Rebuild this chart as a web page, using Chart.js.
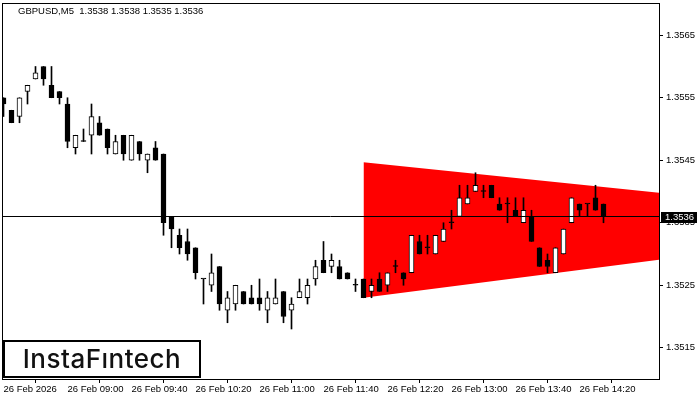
<!DOCTYPE html>
<html>
<head>
<meta charset="utf-8">
<script src="https://cdn.jsdelivr.net/npm/chart.js@4.4.1/dist/chart.umd.min.js"></script>
<style>
  html, body { margin: 0; padding: 0; background: #fff; }
  canvas { display: block; }
</style>
</head>
<body>
<canvas id="chart" width="700" height="400"></canvas>
<script>
// GBPUSD M5, bougie 0 = 26 Feb 08:20
const opens = [
  1.3555, 1.3553, 1.3552, 1.3556, 1.3558, 1.3560, 1.3557, 1.3556, 1.3554, 1.3547,
  1.3548, 1.3549, 1.3551, 1.3550, 1.3546, 1.3549, 1.3545, 1.3548, 1.3545, 1.3547,
  1.3546, 1.3536, 1.3533, 1.3532, 1.3531, 1.3526, 1.3525, 1.3528, 1.3521, 1.3522,
  1.3524, 1.3523, 1.3523, 1.3521, 1.3522, 1.3524, 1.3521, 1.3523, 1.3523, 1.3526,
  1.3529, 1.3528, 1.3528, 1.3527, 1.3525, 1.3526, 1.3524, 1.3526, 1.3525, 1.3528,
  1.3527, 1.3527, 1.3532, 1.3531, 1.3530, 1.3532, 1.3535, 1.3536, 1.3538, 1.3540,
  1.3540, 1.3541, 1.3538, 1.3538, 1.3537, 1.3535, 1.3536, 1.3531, 1.3529, 1.3527,
  1.3530, 1.3535, 1.3538, 1.3538, 1.3539, 1.3538
];
const highs = [
  1.3555, 1.3553, 1.3555, 1.3557, 1.3560, 1.3560, 1.3560, 1.3556, 1.3555, 1.3549,
  1.3550, 1.3554, 1.3552, 1.3550, 1.3549, 1.3549, 1.3549, 1.3548, 1.3546, 1.3548,
  1.3546, 1.3536, 1.3534, 1.3534, 1.3531, 1.3526, 1.3530, 1.3528, 1.3524, 1.3525,
  1.3524, 1.3525, 1.3526, 1.3524, 1.3526, 1.3524, 1.3523, 1.3526, 1.3526, 1.3529,
  1.3532, 1.3530, 1.3529, 1.3527, 1.3526, 1.3526, 1.3526, 1.3527, 1.3527, 1.3529,
  1.3527, 1.3533, 1.3533, 1.3533, 1.3533, 1.3535, 1.3537, 1.3541, 1.3541, 1.3543,
  1.3541, 1.3541, 1.3539, 1.3539, 1.3539, 1.3539, 1.3537, 1.3531, 1.3530, 1.3531,
  1.3534, 1.3539, 1.3538, 1.3538, 1.3541, 1.3538
];
const lows = [
  1.3552, 1.3551, 1.3551, 1.3554, 1.3558, 1.3557, 1.3555, 1.3554, 1.3547, 1.3546,
  1.3548, 1.3546, 1.3549, 1.3546, 1.3546, 1.3545, 1.3545, 1.3545, 1.3543, 1.3545,
  1.3533, 1.3531, 1.3530, 1.3529, 1.3526, 1.3522, 1.3524, 1.3521, 1.3519, 1.3521,
  1.3522, 1.3522, 1.3521, 1.3519, 1.3522, 1.3519, 1.3518, 1.3523, 1.3522, 1.3525,
  1.3527, 1.3527, 1.3526, 1.3526, 1.3524, 1.3523, 1.3523, 1.3524, 1.3524, 1.3527,
  1.3525, 1.3527, 1.3530, 1.3530, 1.3530, 1.3532, 1.3534, 1.3536, 1.3538, 1.3540,
  1.3539, 1.3539, 1.3537, 1.3535, 1.3536, 1.3535, 1.3532, 1.3528, 1.3527, 1.3527,
  1.3530, 1.3535, 1.3536, 1.3536, 1.3537, 1.3535
];
const closes = [
  1.3554, 1.3551, 1.3555, 1.3557, 1.3559, 1.3558, 1.3555, 1.3555, 1.3548, 1.3549,
  1.3548, 1.3552, 1.3549, 1.3547, 1.3548, 1.3546, 1.3549, 1.3546, 1.3546, 1.3545,
  1.3535, 1.3534, 1.3531, 1.3530, 1.3527, 1.3526, 1.3527, 1.3522, 1.3523, 1.3525,
  1.3522, 1.3522, 1.3522, 1.3523, 1.3523, 1.3520, 1.3522, 1.3524, 1.3525, 1.3528,
  1.3527, 1.3529, 1.3526, 1.3526, 1.3525, 1.3523, 1.3525, 1.3524, 1.3527, 1.3528,
  1.3526, 1.3533, 1.3530, 1.3531, 1.3533, 1.3534, 1.3535, 1.3539, 1.3539, 1.3541,
  1.3540, 1.3539, 1.3537, 1.3538, 1.3536, 1.3537, 1.3532, 1.3528, 1.3528, 1.3531,
  1.3534, 1.3539, 1.3537, 1.3538, 1.3537, 1.3536
];

// axe du temps : une étiquette toutes les 8 bougies (40 min)
const tickIndex = [0, 8, 16, 24, 32, 40, 48, 56, 64, 72];
const timeLabels = [
  "26 Feb 2026", "26 Feb 09:00", "26 Feb 09:40", "26 Feb 10:20", "26 Feb 11:00",
  "26 Feb 11:40", "26 Feb 12:20", "26 Feb 13:00", "26 Feb 13:40", "26 Feb 14:20"
];
const priceTicks = [1.3515, 1.3525, 1.3535, 1.3545, 1.3555, 1.3565];

// triangle (bords haut et bas)
const triX = [45, 81.94];
const triTop = [1.35447, 1.35398];
const triBottom = [1.35230, 1.35291];

const xMin = -0.1875;
const xMax = 81.9375;
const lastPrice = closes[closes.length - 1];
const titleText = "GBPUSD,M5  1.3538 1.3538 1.3535 1.3536";
const tickFont = { family: '"Liberation Sans", Arial, sans-serif', size: 9.5 };

const wicks = opens.map((o, i) => ({ x: i, y: [lows[i], highs[i]] }));
const bodies = opens.map((o, i) => ({ x: i, y: [Math.min(o, closes[i]), Math.max(o, closes[i])] }));
const bodyColors = opens.map((o, i) => closes[i] > o ? "#ffffff" : "#000000");

// cadre, titre, étiquette du prix et logo
const decorations = {
  id: "decorations",
  beforeDatasetsDraw(chart) {
    const { ctx, chartArea: a } = chart;
    ctx.save();
    ctx.strokeStyle = "#000";
    ctx.lineWidth = 1;
    ctx.strokeRect(a.left + 0.5, a.top + 0.5, a.right - a.left, a.bottom - a.top);
    ctx.restore();
  },
  afterDraw(chart) {
    const { ctx } = chart;
    ctx.save();
    ctx.font = '9.5px "Liberation Sans", Arial, sans-serif';
    ctx.fillStyle = "#000";
    ctx.textBaseline = "middle";
    ctx.fillText(titleText, 18, 11);

    // étiquette du dernier prix
    const py = Math.round(chart.scales.y.getPixelForValue(lastPrice));
    ctx.fillStyle = "#000";
    ctx.fillRect(661, py - 5, 36, 11);
    ctx.fillStyle = "#fff";
    ctx.fillText(lastPrice.toFixed(4), 665, py + 0.5);

    // logo
    ctx.fillStyle = "#fff";
    ctx.fillRect(3, 340, 198, 38);
    ctx.strokeStyle = "#000";
    ctx.lineWidth = 2;
    ctx.strokeRect(4, 341, 196, 36);
    ctx.fillStyle = "#111";
    ctx.font = '500 26px Inter, "Open Sans", sans-serif';
    ctx.letterSpacing = "0.5px";
    ctx.textAlign = "center";
    ctx.fillText("InstaFıntech", 102, 360);
    ctx.restore();
  }
};

const chart = new Chart(document.getElementById("chart"), {
  type: "bar",
  data: {
    datasets: [
      {
        type: "line",
        data: triX.map((x, i) => ({ x: x, y: triTop[i] })),
        borderColor: "rgba(0,0,0,0)",
        borderWidth: 0,
        pointRadius: 0,
        fill: false,
        order: 5,
      },
      {
        type: "line",
        data: triX.map((x, i) => ({ x: x, y: triBottom[i] })),
        borderColor: "rgba(0,0,0,0)",
        borderWidth: 0,
        pointRadius: 0,
        backgroundColor: "#ff0000",
        fill: "-1",
        order: 5,
      },
      {
        data: wicks,
        backgroundColor: "#000",
        borderWidth: 0,
        barThickness: 1,
        grouped: false,
        order: 3,
      },
      {
        data: bodies,
        backgroundColor: bodyColors,
        borderColor: "#000",
        borderWidth: 1,
        borderSkipped: false,
        barThickness: 5,
        minBarLength: 1,
        grouped: false,
        order: 2,
      },
      {
        type: "line",
        data: [{ x: xMin, y: lastPrice }, { x: xMax, y: lastPrice }],
        borderColor: "#000",
        borderWidth: 1,
        pointRadius: 0,
        fill: false,
        order: 1,
      },
    ],
  },
  options: {
    responsive: false,
    animation: false,
    events: [],
    layout: { padding: { left: 2, top: 3, right: 0, bottom: 0 } },
    plugins: {
      legend: { display: false },
      tooltip: { enabled: false },
    },
    scales: {
      x: {
        type: "linear",
        min: xMin,
        max: xMax,
        offset: false,
        grid: { display: true, drawOnChartArea: false, drawTicks: true, tickLength: 4, color: "#000" },
        border: { display: false },
        afterBuildTicks: (axis) => { axis.ticks = tickIndex.map(v => ({ value: v })); },
        afterFit: (axis) => { axis.height = 21; axis.paddingLeft = 0; axis.paddingRight = 0; },
        ticks: {
          autoSkip: false,
          maxRotation: 0,
          align: "start",
          padding: 1,
          color: "#000",
          font: tickFont,
          callback: (v, i) => timeLabels[i],
        },
      },
      y: {
        position: "right",
        min: 1.3510,
        max: 1.357016,
        grid: { display: true, drawOnChartArea: false, drawTicks: true, tickLength: 4, color: "#000" },
        border: { display: false },
        afterBuildTicks: (axis) => { axis.ticks = priceTicks.map(v => ({ value: v })); },
        afterFit: (axis) => { axis.width = 41; axis.paddingTop = 0; axis.paddingBottom = 0; },
        ticks: {
          padding: 3,
          color: "#000",
          font: tickFont,
          callback: (v) => v.toFixed(4),
        },
      },
    },
  },
  plugins: [decorations],
});
</script>
</body>
</html>
